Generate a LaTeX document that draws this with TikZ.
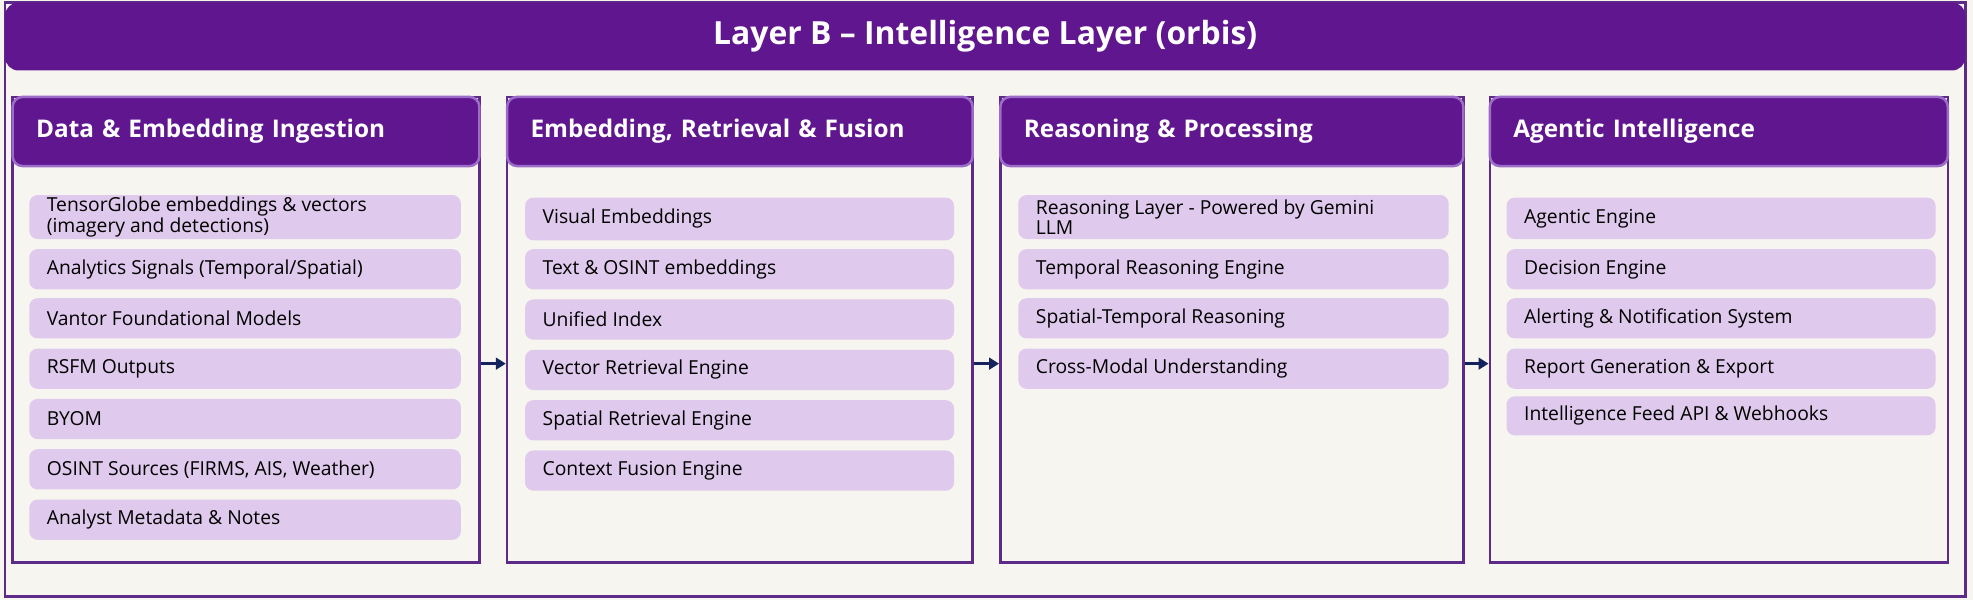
\documentclass[tikz,border=0pt]{standalone}
\usepackage{fontspec}
\setmainfont{Open Sans}
\usetikzlibrary{arrows.meta}
\definecolor{deep}{HTML}{60168F}
\definecolor{edge}{HTML}{9B6CC8}
\definecolor{frame}{HTML}{5E2A8A}
\definecolor{itemf}{HTML}{DFC9EC}
\definecolor{bg}{HTML}{F7F5F0}
\definecolor{arr}{HTML}{14235E}
\begin{document}
\begin{tikzpicture}[x=0.75pt,y=-0.75pt,
  panel/.style={draw=frame,line width=1.5pt,fill=bg,inner sep=0},
  phead/.style={draw=edge,line width=1.5pt,fill=deep,rounded corners=6pt,text=white,font=\bfseries\fontsize{14.5}{17}\selectfont,align=left,inner sep=0},
  item/.style={fill=itemf,rounded corners=5pt,inner sep=0,anchor=west},
  itext/.style={anchor=west,font=\fontsize{11.5}{12}\selectfont,align=left,inner sep=0},
  arrow/.style={-{Triangle[length=6pt,width=7pt]},line width=2pt,draw=arr}]
\useasboundingbox (0,0) rectangle (1568,477);
\fill[bg] (0,0) rectangle (1568,477);
\node[draw=frame,line width=1.5pt,fill=bg,minimum width=1558*0.75pt,minimum height=472*0.75pt,inner sep=0] (outer) at (783,238) {};
\node[fill=deep,rounded corners=8pt,minimum width=1558*0.75pt,minimum height=54*0.75pt,inner sep=0,text=white,font=\bfseries\fontsize{19}{22}\selectfont] (title) at (783,29) {Layer B – Intelligence Layer (orbis)};
% panels
\newcommand{\mkpanel}[4]{%
  \node[panel,minimum width=#3*0.75pt,minimum height=370*0.75pt] (#1) at (#2,262) {};
  \node[phead,minimum width=#3*0.75pt,minimum height=55*0.75pt,text width=#3*0.75pt-28pt] (#1h) at (#2,104.5) {#4};}
\mkpanel{p1}{195.5}{371}{Data \& Embedding Ingestion}
\mkpanel{p2}{588}{370}{Embedding, Retrieval \& Fusion}
\mkpanel{p3}{979}{368}{Reasoning \& Processing}
\mkpanel{p4}{1366}{364}{Agentic Intelligence}
\newcommand{\mkitem}[6]{\node[item,minimum width=#4*0.75pt,minimum height=#5*0.75pt] (#1) at (#2,#3) {};
  \node[itext] (#1t) at ([xshift=10.5pt]#1.west) {#6};}
% panel 1
\mkitem{a1}{23}{172.5}{343}{35}{TensorGlobe embeddings \& vectors\\(imagery and detections)}
\mkitem{a2}{23}{214}{343}{32}{Analytics Signals (Temporal/Spatial)}
\mkitem{a3}{23}{253}{343}{32}{Vantor Foundational Models}
\mkitem{a4}{23}{293}{343}{32}{RSFM Outputs}
\mkitem{a5}{23}{333}{343}{32}{BYOM}
\mkitem{a6}{23}{373}{343}{32}{OSINT Sources (FIRMS, AIS, Weather)}
\mkitem{a7}{23}{413}{343}{32}{Analyst Metadata \& Notes}
% panel 2
\mkitem{b1}{417}{174}{341}{34}{Visual Embeddings}
\mkitem{b2}{417}{214}{341}{32}{Text \& OSINT embeddings}
\mkitem{b3}{417}{254}{341}{32}{Unified Index}
\mkitem{b4}{417}{294}{341}{32}{Vector Retrieval Engine}
\mkitem{b5}{417}{334}{341}{32}{Spatial Retrieval Engine}
\mkitem{b6}{417}{374}{341}{32}{Context Fusion Engine}
% panel 3
\mkitem{c1}{809}{172.5}{342}{35}{Reasoning Layer - Powered by Gemini\\LLM}
\mkitem{c2}{809}{214}{342}{32}{Temporal Reasoning Engine}
\mkitem{c3}{809}{253}{342}{32}{Spatial-Temporal Reasoning}
\mkitem{c4}{809}{293}{342}{32}{Cross-Modal Understanding}
% panel 4
\mkitem{d1}{1197}{173.5}{341}{33}{Agentic Engine}
\mkitem{d2}{1197}{214}{341}{32}{Decision Engine}
\mkitem{d3}{1197}{253}{341}{32}{Alerting \& Notification System}
\mkitem{d4}{1197}{293}{341}{32}{Report Generation \& Export}
\mkitem{d5}{1197}{330.5}{341}{31}{Intelligence Feed API \& Webhooks}
% arrows
\coordinate (ay) at (0,289);
\draw[arrow] (p1.east |- ay) -- (p2.west |- ay);
\draw[arrow] (p2.east |- ay) -- (p3.west |- ay);
\draw[arrow] (p3.east |- ay) -- (p4.west |- ay);
\end{tikzpicture}
\end{document}
